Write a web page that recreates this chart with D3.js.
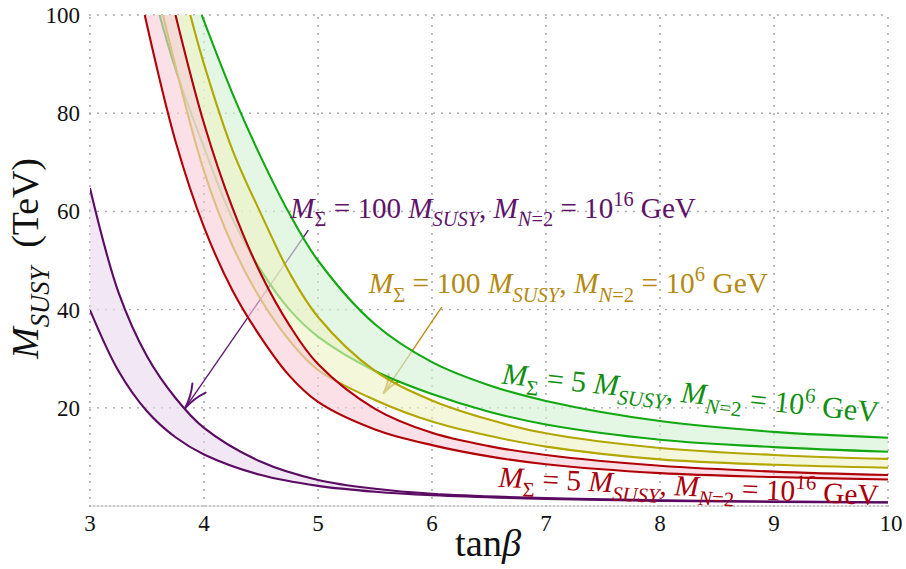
<!DOCTYPE html>
<html><head><meta charset="utf-8">
<script src="https://cdn.jsdelivr.net/npm/d3@7"></script>
<style>
body{margin:0;background:#fff}
svg{display:block}
text{white-space:pre}
</style>
</head><body>
<svg id="chart" width="906" height="569"></svg>
<script>
// ---------- data (tanβ, M_SUSY in TeV) ----------
const xTicks = [3,4,5,6,7,8,9,10];
const yTicks = [20,40,60,80,100];

const purpleUpper = [[3,64.7],[3.25,43.5],[3.5,30.5],[3.75,22.0],[4,15.9],[4.5,9.0],[5,5.3],[5.5,3.5],[6,2.5],[7,1.6],[8,1.15],[9,0.9],[10,0.75]];
const purpleLower = [[3,39.9],[3.25,27.5],[3.5,19.3],[3.75,14.0],[4,10.5],[4.5,6.3],[5,4.1],[5.5,2.9],[6,2.2],[7,1.45],[8,1.05],[9,0.85],[10,0.7]];

const greenUpper  = [[3.98,100],[4.25,84],[4.5,71],[4.75,59.5],[5,50],[5.5,37],[6,29.3],[6.5,24.6],[7,21.4],[8,17.3],[9,15.1],[10,13.9]];
const greenLower  = [[3.61,100],[3.75,89],[4,73],[4.25,58.5],[4.5,48],[4.75,40],[5,34.5],[5.5,27.5],[6,22.8],[6.5,19.2],[7,16.6],[8,13.5],[9,12.0],[10,11.05]];

const yellowUpper = [[3.88,100],[4,90],[4.25,72.5],[4.5,59.5],[4.75,47.5],[5,38.5],[5.5,27.5],[6,21.5],[6.5,17.6],[7,14.8],[8,11.8],[9,10.4],[10,9.6]];
const yellowLower = [[3.64,100],[4,68.2],[4.25,53],[4.5,42],[4.75,33.7],[5,27.7],[5.5,21.6],[6,17.2],[6.5,14.3],[7,12.1],[8,9.5],[9,8.4],[10,7.8]];

const redUpper    = [[3.75,100],[4,77.9],[4.25,60.7],[4.5,47.2],[4.75,36.8],[5,28.9],[5.5,19.8],[6,14.9],[6.5,12.2],[7,10.4],[8,8.2],[9,7.0],[10,6.3]];
const redLower    = [[3.48,100],[3.75,74.3],[4,56.8],[4.25,43.9],[4.5,34.3],[4.75,26.5],[5,21.2],[5.5,15.6],[6,12.4],[6.5,10.1],[7,8.5],[8,6.7],[9,5.9],[10,5.4]];

// annotation arrows (data coords: start -> tip)
const purpleArrow = [[4.915,56.2],[3.833,19.9]];
const goldArrow   = [[6.085,40.5],[5.573,22.9]];

// ---------- setup ----------
const FONT = "'Liberation Serif', 'Times New Roman', serif";
const svg = d3.select("#chart");
const x = d3.scaleLinear().domain([3,10]).range([90,888]);
const y = d3.scaleLinear().domain([0,100]).range([506,15]);

svg.append("defs").append("clipPath").attr("id","plot")
  .append("rect").attr("x",x(3)).attr("y",y(100)).attr("width",x(10)-x(3)).attr("height",y(0)-y(100));

// grid
const grid = svg.append("g");
const dotted = sel => sel.attr("stroke","#9c9c9c").attr("stroke-width",1.8)
  .attr("stroke-linecap","round").attr("stroke-dasharray","0,8");
xTicks.forEach(t=>{
  grid.append("line").attr("x1",x(t)).attr("x2",x(t)).attr("y1",y(0)).attr("y2",y(100)).call(dotted);
});
yTicks.forEach(v=>{
  grid.append("line").attr("x1",x(3)).attr("x2",x(10)).attr("y1",y(v)).attr("y2",y(v)).call(dotted);
});
grid.append("line").attr("x1",x(3)).attr("x2",x(10)).attr("y1",y(0)).attr("y2",y(0))
  .attr("stroke","#d8d8d8").attr("stroke-width",1);
grid.append("line").attr("x1",x(3)).attr("x2",x(10)).attr("y1",y(0)).attr("y2",y(0))
  .attr("stroke","#9c9c9c").attr("stroke-width",1.6).attr("stroke-linecap","round").attr("stroke-dasharray","0,4");

// tick labels
const tl = svg.append("g").attr("font-size",23).attr("fill","#111").attr("font-family",FONT);
xTicks.forEach(t=>{
  tl.append("text").attr("x",x(t)+(t===10?3:0)).attr("y",531).attr("text-anchor","middle").text(t);
});
yTicks.forEach(v=>{
  tl.append("text").attr("x",80).attr("y",y(v)+8).attr("text-anchor","end").text(v);
});

// arrows (drawn below the bands so that the fills veil them)
function drawArrow(g, pts, color, headLen, spread){
  const p0=[x(pts[0][0]),y(pts[0][1])], p1=[x(pts[1][0]),y(pts[1][1])];
  g.append("line").attr("x1",p0[0]).attr("y1",p0[1]).attr("x2",p1[0]).attr("y2",p1[1])
    .attr("stroke",color).attr("stroke-width",1.4);
  const a=Math.atan2(p0[1]-p1[1],p0[0]-p1[0]);
  const s=spread*Math.PI/180;
  const b1=[p1[0]+headLen*Math.cos(a+s),p1[1]+headLen*Math.sin(a+s)];
  const b2=[p1[0]+headLen*Math.cos(a-s),p1[1]+headLen*Math.sin(a-s)];
  const c1=[p1[0]+headLen*0.5*Math.cos(a+s*0.35),p1[1]+headLen*0.5*Math.sin(a+s*0.35)];
  const c2=[p1[0]+headLen*0.5*Math.cos(a-s*0.35),p1[1]+headLen*0.5*Math.sin(a-s*0.35)];
  g.append("path").attr("d",`M${b1}Q${c1} ${p1}Q${c2} ${b2}`)
    .attr("fill","none").attr("stroke",color).attr("stroke-width",2).attr("stroke-linecap","round");
}
const arrows = svg.append("g");
drawArrow(arrows, purpleArrow, "#5f1670", 26, 18);
drawArrow(arrows, goldArrow, "#b98d1a", 20, 18);

// bands
const line = d3.line().x(d=>x(d[0])).y(d=>y(d[1])).curve(d3.curveCatmullRom.alpha(0.5));
function band(upper, lower, lineColor, fillColor){
  const g = svg.append("g").attr("clip-path","url(#plot)");
  const d = line(upper) + line(lower.slice().reverse()).replace(/^M/,"L") + "Z";
  g.append("path").attr("d",d).attr("fill",fillColor).attr("fill-opacity",0.62).attr("stroke","none");
  [upper,lower].forEach(c=>g.append("path").attr("d",line(c)).attr("fill","none")
    .attr("stroke",lineColor).attr("stroke-width",2.1));
}
band(purpleUpper, purpleLower, "#5a0b62", "#ead9ed");
band(greenUpper, greenLower, "#12a812", "#d3f1d3");
band(yellowUpper, yellowLower, "#b3a600", "#eef2c4");
band(redUpper, redLower, "#b00008", "#f8cdd8");

// math text helper
function mathLabel(parent, segs, opts){
  const F = opts.size || 20;
  const g = parent.append("g");
  const t = g.append("text").attr("font-size",F).attr("fill",opts.color).attr("font-family",FONT);
  let cur = 0;
  segs.forEach(([kind,str])=>{
    const sp = t.append("tspan").text(str);
    let target = 0, small=false, ital=false;
    if(kind==="i") ital=true;
    if(kind==="sub"||kind==="subi"){target=0.28*F; small=true;}
    if(kind==="sup"){target=-0.42*F; small=true;}
    if(kind==="subi") ital=true;
    if(small) sp.attr("font-size",0.7*F);
    if(ital) sp.attr("font-style","italic");
    if(target!==cur){ sp.attr("dy",target-cur); cur=target; }
  });
  const bb = t.node().getBBox();
  const k = opts.length / bb.width;
  g.attr("transform",`translate(${opts.x},${opts.y}) rotate(${opts.angle||0}) scale(${k}) translate(${-bb.x},0)`);
  return g;
}

const labels = svg.append("g");
const segs16 = n => [["i","M"],["sub","Σ"],["r"," = "+n+" "],["i","M"],["subi","SUSY"],["r",", "],["i","M"],["subi","N"],["sub","=2"],["r"," = 10"],["sup","16"],["r"," GeV"]];
const segs6  = n => [["i","M"],["sub","Σ"],["r"," = "+n+" "],["i","M"],["subi","SUSY"],["r",", "],["i","M"],["subi","N"],["sub","=2"],["r"," = 10"],["sup","6"],["r"," GeV"]];

mathLabel(labels, segs16(100), {x:x(4.745), y:y(58.6), length:407, color:"#5e1469", size:21});
mathLabel(labels, segs6(100),  {x:x(5.432), y:y(43.3), length:401, color:"#b48a12", size:21});
mathLabel(labels, segs6(5),    {x:x(6.596), y:y(24.96), length:380, angle:5.86, color:"#128f12", size:21});
mathLabel(labels, segs16(5),   {x:x(6.568), y:y(3.93), length:382, angle:2.76, color:"#a8000c", size:21});

// axis titles
const xt = svg.append("text").attr("font-size",27).attr("fill","#111").attr("font-family",FONT);
xt.append("tspan").text("tan");
xt.append("tspan").attr("font-style","italic").text("β");
{
  const bb = xt.node().getBBox();
  xt.attr("transform",`translate(455,556) scale(${67/bb.width}) translate(${-bb.x},0)`);
}
mathLabel(svg, [["i","M"],["subi","SUSY"],["r","  (TeV)"]], {x:38, y:360, length:202, angle:-90, color:"#111", size:30});
</script>
</body></html>
